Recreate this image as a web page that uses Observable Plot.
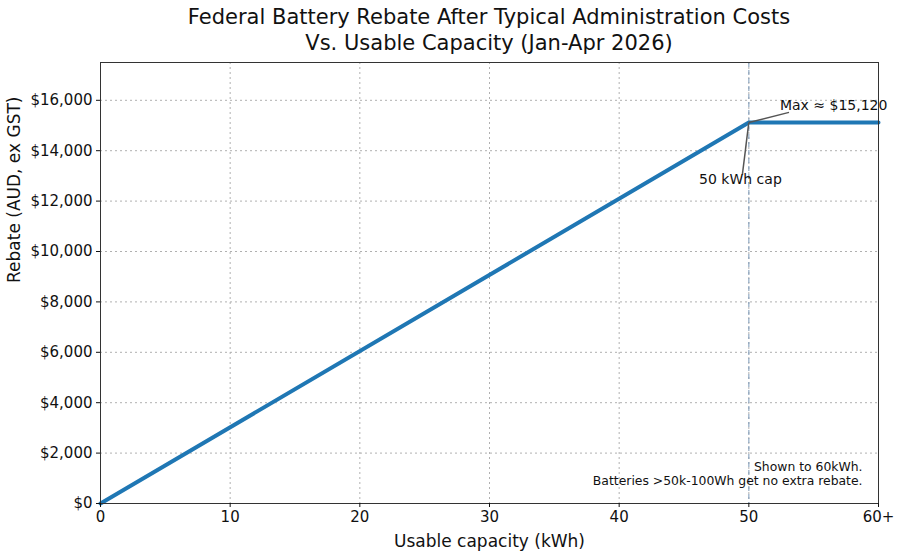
<!DOCTYPE html>
<html><head><meta charset="utf-8">
<script src="https://cdn.jsdelivr.net/npm/d3@7"></script>
<script src="https://cdn.jsdelivr.net/npm/@observablehq/plot@0.6"></script>
<style>
body{margin:0;background:#fff;font-family:"DejaVu Sans",sans-serif;}
#title{height:58px;margin-left:100px;width:778px;text-align:center;font-size:21px;line-height:26px;padding-top:4px;box-sizing:border-box;color:#111;}
</style></head>
<body>
<div id="title">Federal Battery Rebate After Typical Administration Costs<br>Vs. Usable Capacity (Jan-Apr 2026)</div>
<div id="chart"></div>
<script>
const capacity = [0, 50, 60];
const rebate = [0, 15120, 15120];
const xTicks = [0, 10, 20, 30, 40, 50, 60];
const xTickLabels = ["0", "10", "20", "30", "40", "50", "60+"];
const yTicks = [0, 2000, 4000, 6000, 8000, 10000, 12000, 14000, 16000];
const capKWh = 50;
const maxLabel = {text: "Max ≈ $15,120", x: 52.4, y: 15800, ax: 53.1, ay: 15520};
const capLabel = {text: "50 kWh cap", x: 49.35, y: 12850, ax: 49.5, ay: 13050};
const noteText = "Shown to 60kWh.\nBatteries >50k-100Wh get no extra rebate.";
const notePos = {x: 58.77, y: 1200};

const data = capacity.map((c, i) => ({c, r: rebate[i]}));
const font = "DejaVu Sans";
const chart = Plot.plot({
  width: 900, height: 499,
  marginTop: 4, marginBottom: 54, marginLeft: 100, marginRight: 22,
  style: {fontFamily: font, fontSize: "15px", color: "#111", background: "#fff"},
  x: {domain: [0, 60]},
  y: {domain: [0, 17500]},
  marks: [
    Plot.gridX(xTicks, {stroke: "#b0b0b0", strokeOpacity: 1, strokeDasharray: "2,3", strokeWidth: 1}),
    Plot.gridY(yTicks, {stroke: "#b0b0b0", strokeOpacity: 1, strokeDasharray: "2,3", strokeWidth: 1}),
    Plot.ruleX([capKWh], {stroke: "#7f9cba", strokeOpacity: 0.85, strokeDasharray: "5,3", strokeWidth: 1.2}),
    Plot.line(data, {x: "c", y: "r", stroke: "#1f77b4", strokeWidth: 4, strokeLinejoin: "miter"}),
    Plot.link([maxLabel, capLabel], {x1: () => capKWh, y1: () => rebate[1], x2: "ax", y2: "ay", stroke: "#555", strokeWidth: 1.5}),
    Plot.text([maxLabel], {x: "x", y: "y", text: "text", textAnchor: "start", fontSize: 14, fill: "#111"}),
    Plot.text([capLabel], {x: "x", y: "y", text: "text", textAnchor: "middle", fontSize: 14, fill: "#111"}),
    Plot.text([noteText], {x: () => notePos.x, y: () => notePos.y, text: d => d, textAnchor: "end", lineAnchor: "middle", lineHeight: 1.17, fontSize: 12.4, fill: "#111"}),
    Plot.frame({stroke: "#333", strokeWidth: 1}),
    Plot.axisX(xTicks, {tickFormat: (d, i) => xTickLabels[i], tickSize: 4, tickPadding: 4, fontSize: 15, label: null}),
    Plot.axisY(yTicks, {tickFormat: d => "$" + d3.format(",")(d), tickSize: 4, tickPadding: 4, fontSize: 15, label: null}),
    Plot.text(["Usable capacity (kWh)"], {frameAnchor: "bottom", dy: 38, fontSize: 17, lineAnchor: "middle", fill: "#111"}),
    Plot.text(["Rebate (AUD, ex GST)"], {frameAnchor: "left", dx: -86, rotate: -90, fontSize: 17, fill: "#111"})
  ]
});
document.getElementById("chart").appendChild(chart);
</script>
</body></html>
